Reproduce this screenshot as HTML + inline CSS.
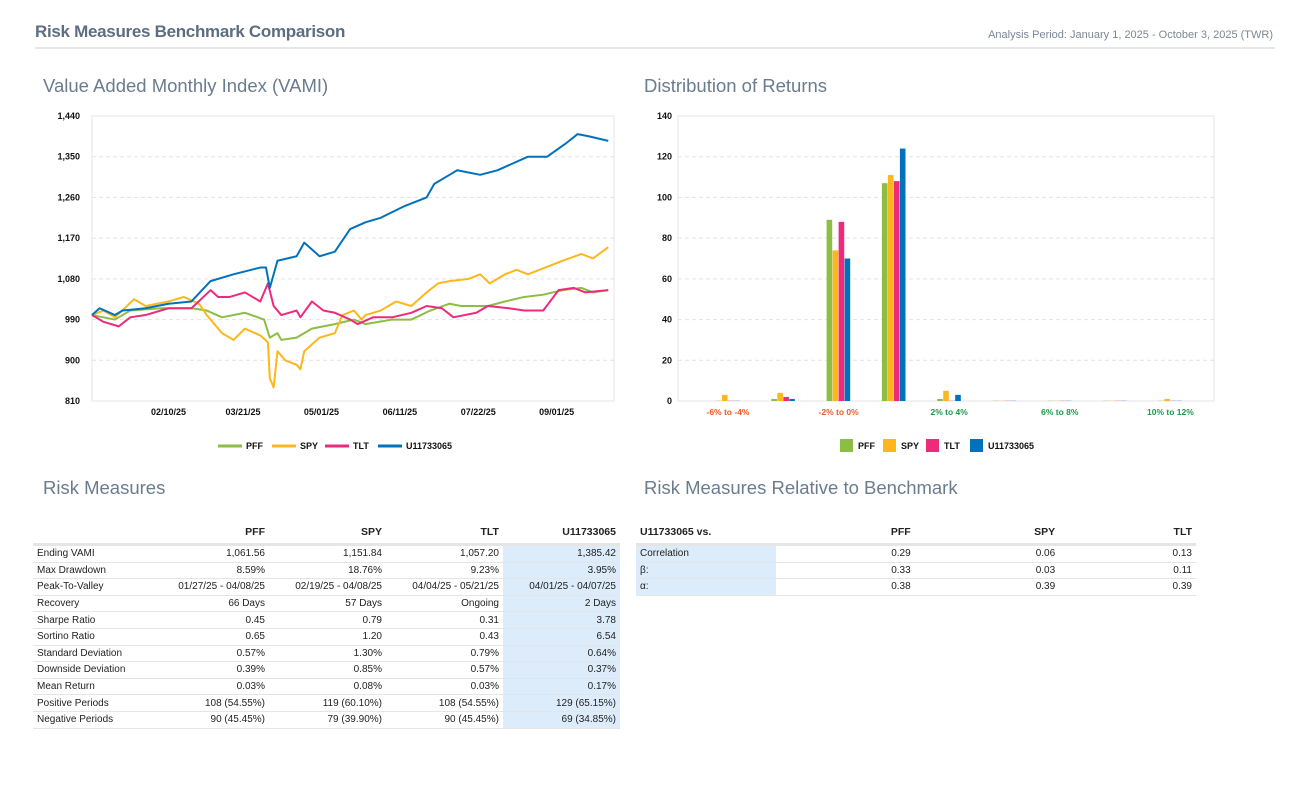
<!DOCTYPE html>
<html><head><meta charset="utf-8">
<style>
body{margin:0;width:1308px;height:797px;background:#fff;font-family:"Liberation Sans",sans-serif;position:relative;overflow:hidden;color:#222}
.abs{position:absolute}
.h1{left:35px;top:22px;font-size:17px;font-weight:bold;color:#5d6e80;letter-spacing:-0.3px}
.period{right:35px;top:29px;font-size:11px;color:#7a8795}
.rule{left:35px;top:47px;width:1240px;height:2px;background:#e3e6ea}
.sec{font-size:18.5px;color:#6b7c8e}
table{border-collapse:collapse;font-size:10px;position:absolute}
td,th{padding:0 4px;border-bottom:1px solid #e5e5e5;white-space:nowrap}
td{height:15.6px;line-height:15px}
th{font-weight:bold;font-size:10.5px;border-bottom:3px solid #e5e5e5;height:23px;text-align:right}
td{text-align:right}
td:first-child{text-align:left}
.hl{background:#dcecfa}
</style></head><body>
<div class="abs h1">Risk Measures Benchmark Comparison</div>
<div class="abs period">Analysis Period: January 1, 2025 - October 3, 2025 (TWR)</div>
<div class="abs rule"></div>
<div class="abs sec" style="left:43px;top:75px">Value Added Monthly Index (VAMI)</div>
<div class="abs sec" style="left:644px;top:75px">Distribution of Returns</div>
<div class="abs sec" style="left:43px;top:477px">Risk Measures</div>
<div class="abs sec" style="left:644px;top:477px">Risk Measures Relative to Benchmark</div>

<svg class="abs" style="left:0;top:0" width="1308" height="470" id="charts" font-family="Liberation Sans, sans-serif"></svg>

<table style="left:33px;top:520px;width:587px">
<tr><th style="text-align:left"></th><th>PFF</th><th>SPY</th><th>TLT</th><th>U11733065</th></tr>
<tr><td>Ending VAMI</td><td>1,061.56</td><td>1,151.84</td><td>1,057.20</td><td class="hl">1,385.42</td></tr>
<tr><td>Max Drawdown</td><td>8.59%</td><td>18.76%</td><td>9.23%</td><td class="hl">3.95%</td></tr>
<tr><td>Peak-To-Valley</td><td>01/27/25 - 04/08/25</td><td>02/19/25 - 04/08/25</td><td>04/04/25 - 05/21/25</td><td class="hl">04/01/25 - 04/07/25</td></tr>
<tr><td>Recovery</td><td>66 Days</td><td>57 Days</td><td>Ongoing</td><td class="hl">2 Days</td></tr>
<tr><td>Sharpe Ratio</td><td>0.45</td><td>0.79</td><td>0.31</td><td class="hl">3.78</td></tr>
<tr><td>Sortino Ratio</td><td>0.65</td><td>1.20</td><td>0.43</td><td class="hl">6.54</td></tr>
<tr><td>Standard Deviation</td><td>0.57%</td><td>1.30%</td><td>0.79%</td><td class="hl">0.64%</td></tr>
<tr><td>Downside Deviation</td><td>0.39%</td><td>0.85%</td><td>0.57%</td><td class="hl">0.37%</td></tr>
<tr><td>Mean Return</td><td>0.03%</td><td>0.08%</td><td>0.03%</td><td class="hl">0.17%</td></tr>
<tr><td>Positive Periods</td><td>108 (54.55%)</td><td>119 (60.10%)</td><td>108 (54.55%)</td><td class="hl">129 (65.15%)</td></tr>
<tr><td>Negative Periods</td><td>90 (45.45%)</td><td>79 (39.90%)</td><td>90 (45.45%)</td><td class="hl">69 (34.85%)</td></tr>
</table>

<table style="left:636px;top:520px;width:560px">
<tr><th style="text-align:left;width:132px">U11733065 vs.</th><th>PFF</th><th>SPY</th><th>TLT</th></tr>
<tr><td class="hl">Correlation</td><td>0.29</td><td>0.06</td><td>0.13</td></tr>
<tr><td class="hl">β:</td><td>0.33</td><td>0.03</td><td>0.11</td></tr>
<tr><td class="hl">α:</td><td>0.38</td><td>0.39</td><td>0.39</td></tr>
</table>

<script>
// ---- VAMI line chart data (day offset from Jan 1, value) ----
const dateTicks=["02/10/25","03/21/25","05/01/25","06/11/25","07/22/25","09/01/25"];
const dateTickDays=[40,79,120,161,202,243];
const yTicks=[810,900,990,1080,1170,1260,1350,1440];
const uDays=[0,4,12,16,28,40,52,62,74,88,91,93,97,107,111,119,127,135,143,151,163,175,179,187,191,203,212,220,228,238,248,254,260,270];
const uVals=[1000,1015,1000,1010,1015,1025,1030,1075,1090,1105,1105,1060,1120,1130,1160,1130,1140,1190,1205,1215,1240,1260,1290,1310,1320,1310,1320,1335,1350,1350,1380,1400,1395,1385];
const spyDays=[0,6,12,22,28,40,48,56,60,68,74,80,88,92,93,95,97,101,107,109,111,119,127,131,137,141,143,151,159,167,175,181,187,197,203,208,216,222,228,234,240,246,256,262,270];
const spyVals=[1000,1010,995,1035,1020,1030,1040,1025,1000,960,945,970,955,940,860,840,920,900,890,880,920,950,960,1000,1010,990,1000,1010,1030,1020,1050,1070,1075,1080,1090,1070,1090,1100,1090,1100,1110,1120,1135,1125,1150];
const pffDays=[0,12,20,36,52,60,68,80,90,93,97,99,107,115,127,137,143,157,167,177,187,193,207,216,226,236,246,256,262,270];
const pffVals=[1000,990,1010,1015,1015,1010,995,1005,990,950,960,945,950,970,980,990,980,990,990,1010,1025,1020,1020,1030,1040,1045,1055,1060,1050,1055];
const tltDays=[0,6,14,20,28,40,52,62,66,72,80,88,92,95,99,107,109,115,121,127,135,139,147,157,167,175,183,189,201,207,218,226,236,244,252,258,270];
const tltVals=[1000,985,975,995,1000,1015,1015,1055,1040,1040,1050,1030,1070,1020,1000,1010,995,1030,1010,1005,990,980,995,995,1005,1020,1015,995,1005,1020,1015,1010,1010,1055,1060,1050,1055];
// ---- Distribution data ----
const bins=["-6% to -4%","-4% to -2%","-2% to 0%","0% to 2%","2% to 4%","4% to 6%","6% to 8%","8% to 10%","10% to 12%"];
const pffCounts=[0,1,89,107,1,0,0,0,0];
const spyCounts=[3,4,74,111,5,0,0,0,1];
const tltCounts=[0,2,88,108,0,0,0,0,0];
const uCounts=[0,1,70,124,3,0,0,0,0];
const barTicks=[0,20,40,60,80,100,120,140];

const NS="http://www.w3.org/2000/svg";
const svg=document.getElementById('charts');
function mk(tag,attrs,parent){const e=document.createElementNS(NS,tag);for(const k in attrs)e.setAttribute(k,attrs[k]);(parent||svg).appendChild(e);return e;}
const colors={PFF:"#8cbd45",SPY:"#fdb71d",TLT:"#ee2a7b",U:"#0072bc"};

// Line chart
const L={x0:92,x1:614,y0:401,y1:116};
const lx=d=>L.x0+(d/273)*(L.x1-L.x0);
const ly=v=>L.y0-(v-810)/(1440-810)*(L.y0-L.y1);
mk('rect',{x:L.x0,y:L.y1,width:L.x1-L.x0,height:L.y0-L.y1,fill:'none',stroke:'#e6e6e6'});
yTicks.forEach(v=>{
  if(v>810&&v<1440){const g=mk('line',{x1:L.x0,x2:L.x1,y1:ly(v),y2:ly(v),stroke:'#e3e3e3','stroke-dasharray':'4,3'});}
  const t=mk('text',{x:L.x0-12,y:ly(v)+3,'text-anchor':'end','font-size':'9','font-weight':'bold',fill:'#111'});t.textContent=v.toLocaleString('en-US');
  
  
});
dateTicks.forEach((s,i)=>{const t=mk('text',{x:lx(dateTickDays[i]),y:415,'text-anchor':'middle','font-size':'9','font-weight':'bold',fill:'#111'});t.textContent=s;
  
  });
function line(days,vals,c,name){const p=mk('polyline',{points:days.map((d,i)=>lx(d)+','+ly(vals[i])).join(' '),fill:'none',stroke:c,'stroke-width':'2','stroke-linejoin':'round'});
  
  }
line(pffDays,pffVals,colors.PFF,'pff-line');
line(spyDays,spyVals,colors.SPY,'spy-line');
line(tltDays,tltVals,colors.TLT,'tlt-line');
line(uDays,uVals,colors.U,'u11733065-line');
[["PFF",colors.PFF,218],["SPY",colors.SPY,272],["TLT",colors.TLT,325],["U11733065",colors.U,378]].forEach(([n,c,x])=>{
  const l=mk('line',{x1:x,x2:x+24,y1:446,y2:446,stroke:c,'stroke-width':'3'});
  
  
  const t=mk('text',{x:x+28,y:449,'font-size':'9','font-weight':'bold',fill:'#111'});t.textContent=n;
  
  
});

// Bar chart
const B={x0:678,x1:1214,y0:401,y1:116};
const by=v=>B.y0-v/140*(B.y0-B.y1);
const bc=i=>728+i*55.3;
mk('rect',{x:B.x0,y:B.y1,width:B.x1-B.x0,height:B.y0-B.y1,fill:'none',stroke:'#e6e6e6'});
barTicks.forEach(v=>{
  if(v>0&&v<140){const g=mk('line',{x1:B.x0,x2:B.x1,y1:by(v),y2:by(v),stroke:'#e3e3e3','stroke-dasharray':'4,3'});}
  const t=mk('text',{x:B.x0-6,y:by(v)+3,'text-anchor':'end','font-size':'9','font-weight':'bold',fill:'#111'});t.textContent=v;
  
  
});
bins.forEach((b,i)=>{if(i%2===0){const t=mk('text',{x:bc(i),y:415,'text-anchor':'middle','font-size':'8.5','font-weight':'bold',fill:i<3?'#f05a28':'#1a9a4a'});t.textContent=b;
  
  }});
const series=[[pffCounts,colors.PFF,'pff'],[spyCounts,colors.SPY,'spy'],[tltCounts,colors.TLT,'tlt'],[uCounts,colors.U,'u11733065']];
series.forEach(([arr,c,n],s)=>{arr.forEach((v,i)=>{
  const x=bc(i)-12+s*6;const h=Math.max(B.y0-by(v),0.6);
  const r=mk('rect',{x:x,y:B.y0-h,width:5.6,height:h,fill:c,opacity:v===0?0.35:1});
  
  
});});
[["PFF",colors.PFF,840],["SPY",colors.SPY,883],["TLT",colors.TLT,926],["U11733065",colors.U,970]].forEach(([n,c,x])=>{
  const r=mk('rect',{x:x,y:439,width:13,height:13,fill:c});
  
  
  const t=mk('text',{x:x+18,y:449,'font-size':'9','font-weight':'bold',fill:'#111'});t.textContent=n;
  
  
});
</script>
</body></html>
